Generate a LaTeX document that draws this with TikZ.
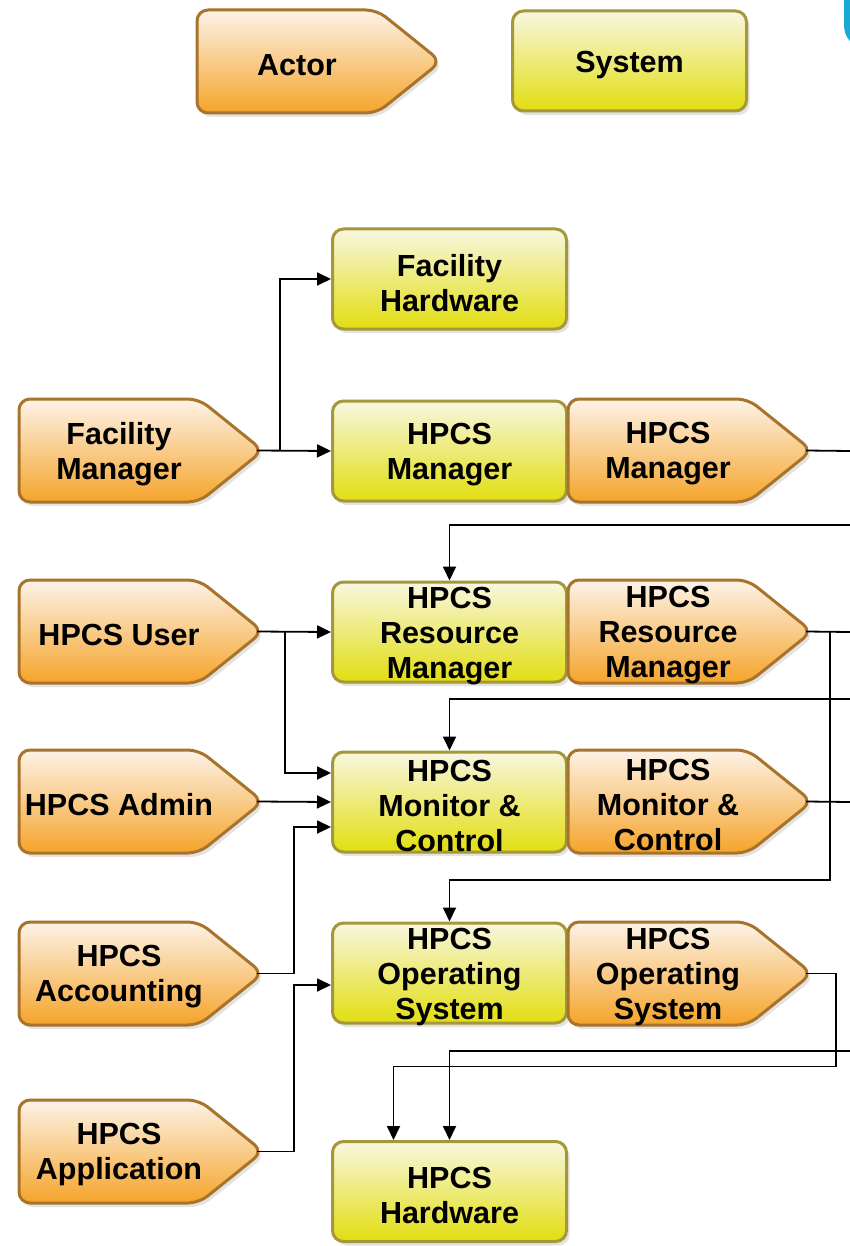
\documentclass[tikz,border=0pt]{standalone}
\usepackage{fontspec}
\setmainfont{Liberation Sans}
\usetikzlibrary{arrows.meta,shadows}
\definecolor{actTop}{HTML}{FDF3E8}
\definecolor{actMid}{HTML}{F9D1A0}
\definecolor{actBot}{HTML}{F5A42A}
\definecolor{actLine}{HTML}{A8742C}
\definecolor{sysTop}{HTML}{F8F7E0}
\definecolor{sysMid}{HTML}{EEEA92}
\definecolor{sysBot}{HTML}{E2DE10}
\definecolor{sysLine}{HTML}{A4983A}
\definecolor{blueBit}{HTML}{1AA8D4}
\tikzset{
  lbl/.style={font=\bfseries\fontsize{30.5}{35}\selectfont, align=center, inner sep=0pt},
  actorshape/.style={draw=actLine, line width=3pt, rounded corners=11pt,
     top color=actTop, middle color=actMid, bottom color=actBot,
     drop shadow={shadow xshift=3pt, shadow yshift=-4pt, opacity=0.22}},
  sysbox/.style={draw=sysLine, line width=3pt, rounded corners=11pt,
     top color=sysTop, middle color=sysMid, bottom color=sysBot,
     minimum width=234pt, minimum height=100pt, inner sep=0pt,
     drop shadow={shadow xshift=3pt, shadow yshift=-4pt, opacity=0.22}},
  conn/.style={line width=1.8pt, -{Triangle[length=14pt,width=13pt]}},
  wire/.style={line width=1.8pt}
}
\newcommand\actorbox[4]{%
  \path[actorshape] (#2,#3) -- ++(180,0) -- ++(64,51.5) -- ++(-64,51.5) -- ++(-180,0) -- cycle;
  \node[lbl] (#1) at (#2+100,#3+55) {#4};
  \coordinate (#1-tip) at (#2+238,#3+51.5);
}
\newcommand\sysnode[4]{%
  \node[sysbox] (#1) at (#2,#3) {};
  \node[lbl] (#1-t) at ([yshift=-4pt]#1.center) {#4};
}
\begin{document}
\begin{tikzpicture}[x=1pt,y=-1pt]
\useasboundingbox[fill=white] (0,0) rectangle (850,1246);
% blue fragment at top right
\fill[blueBit] (850,0) -- (844,0) -- (844,24) .. controls (844,32) and (846,37) .. (850,41) -- cycle;
% legend
\actorbox{legactor}{197}{10}{Actor}
\sysnode{legsys}{629.5}{61}{System}
% systems
\sysnode{fhw}{449.5}{279}{Facility\\Hardware}
\sysnode{hmgr}{449.5}{451}{HPCS\\Manager}
\sysnode{hrm}{449.5}{632}{HPCS\\Resource\\Manager}
\sysnode{hmon}{449.5}{802}{HPCS\\Monitor \&\\Control}
\sysnode{hos}{449.5}{973}{HPCS\\Operating\\System}
\sysnode{hhw}{449.5}{1191.5}{HPCS\\Hardware}
% actors
\actorbox{fm}{19}{399}{Facility\\Manager}
\actorbox{am}{568}{399}{HPCS\\Manager}
\actorbox{user}{19}{580}{HPCS User}
\actorbox{arm}{568}{580}{HPCS\\Resource\\Manager}
\actorbox{admin}{19}{750}{HPCS Admin}
\actorbox{amon}{568}{750}{HPCS\\Monitor \&\\Control}
\actorbox{acct}{19}{922}{HPCS\\Accounting}
\actorbox{aos}{568}{922}{HPCS\\Operating\\System}
\actorbox{app}{19}{1100}{HPCS\\Application}
% free ends at right edge
\coordinate (e1) at (850,451);
\coordinate (i1) at (850,525);
\coordinate (e2) at (850,632);
\coordinate (i2) at (850,699);
\coordinate (e3) at (850,802);
\coordinate (i3) at (850,1051);
\coordinate (j1) at (830,632);
\coordinate (b1) at (830,880);
% connectors
\draw[conn] (fm-tip) -- (hmgr.west);
\draw[conn] (fm-tip) -- ++(23,0) |- (fhw.west);
\draw[wire] (am-tip) -- (e1);
\draw[conn] (i1) -| (hrm.north);
\draw[wire] (arm-tip) -- (e2);
\draw[conn] (j1) -- (b1) -| (hos.north);
\draw[conn] (i2) -| (hmon.north);
\draw[conn] (user-tip) -- (hrm.west);
\draw[conn] (user-tip) -- ++(28,0) |- ([yshift=29pt]hmon.west);
\draw[conn] (admin-tip) -- (hmon.west);
\draw[wire] (amon-tip) -- (e3);
\draw[conn] (acct-tip) -- ++(37,0) |- ([yshift=-25pt]hmon.west);
\draw[conn] (app-tip) -- ++(37,0) |- ([yshift=-12pt]hos.west);
\draw[conn] (aos-tip) -- ++(30,0) -- ++(0,93) -| ([xshift=-56pt]hhw.north);
\draw[conn] (i3) -| (hhw.north);
\end{tikzpicture}
\end{document}
